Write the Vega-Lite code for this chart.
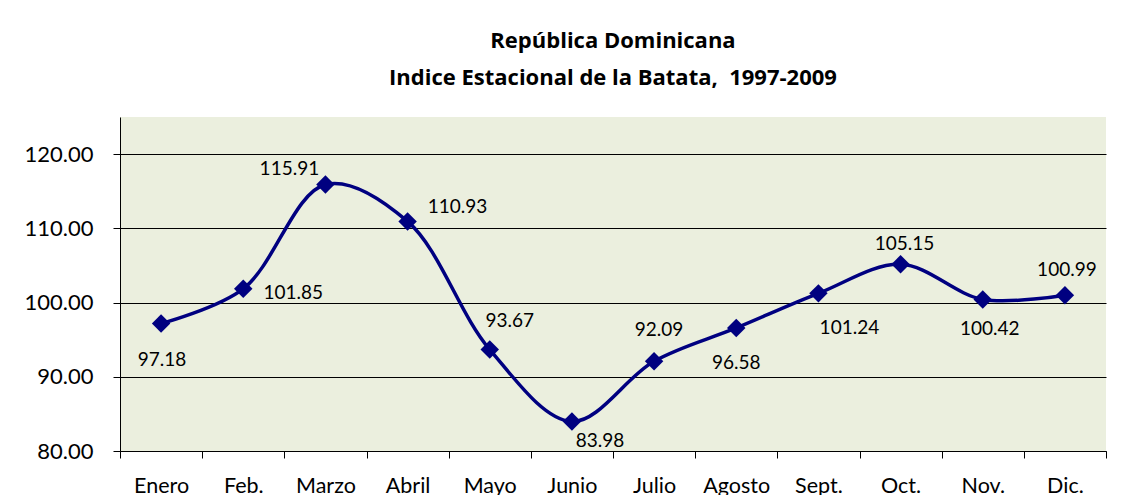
{
  "$schema": "https://vega.github.io/schema/vega-lite/v6.json",
  "width": 986,
  "height": 334,
  "autosize": {"type": "none"},
  "padding": {"left": 120, "top": 117, "right": 15, "bottom": 44},
  "background": "white",
  "title": {
    "text": ["República Dominicana", "Indice Estacional de la Batata,\u00a0 1997-2009"],
    "font": "Open Sans",
    "fontSize": 22,
    "fontWeight": "bold",
    "lineHeight": 37,
    "anchor": "middle",
    "color": "black",
    "offset": 27
  },
  "data": {
    "values": [
      {"mes": "Enero", "valor": 97.18},
      {"mes": "Feb.", "valor": 101.85},
      {"mes": "Marzo", "valor": 115.91},
      {"mes": "Abril", "valor": 110.93},
      {"mes": "Mayo", "valor": 93.67},
      {"mes": "Junio", "valor": 83.98},
      {"mes": "Julio", "valor": 92.09},
      {"mes": "Agosto", "valor": 96.58},
      {"mes": "Sept.", "valor": 101.24},
      {"mes": "Oct.", "valor": 105.15},
      {"mes": "Nov.", "valor": 100.42},
      {"mes": "Dic.", "valor": 100.99}
    ]
  },
  "encoding": {
    "x": {
      "field": "mes",
      "type": "ordinal",
      "sort": ["Enero", "Feb.", "Marzo", "Abril", "Mayo", "Junio", "Julio", "Agosto", "Sept.", "Oct.", "Nov.", "Dic."],
      "scale": {"paddingInner": 0, "paddingOuter": 0},
      "axis": {
        "title": null,
        "labelAngle": 0,
        "tickBand": "extent",
        "tickSize": 7,
        "tickColor": "black",
        "domainColor": "black",
        "labelFont": "Lato",
        "labelFontSize": 21.5,
        "labelColor": "black",
        "labelPadding": 17,
        "grid": false
      }
    },
    "y": {
      "field": "valor",
      "type": "quantitative",
      "scale": {"domain": [80, 125], "nice": false, "zero": false},
      "axis": {
        "title": null,
        "values": [80, 90, 100, 110, 120],
        "format": ".2f",
        "grid": true,
        "gridColor": "black",
        "gridWidth": 1,
        "gridOpacity": 1,
        "tickSize": 7,
        "tickColor": "black",
        "domainColor": "black",
        "labelFont": "Lato",
        "labelFontSize": 22,
        "labelColor": "black",
        "labelPadding": 20
      }
    }
  },
  "layer": [
    {"mark": {"type": "line", "interpolate": "catmull-rom", "color": "#000080", "strokeWidth": 3.5}},
    {"mark": {"type": "point", "shape": "diamond", "filled": true, "color": "#000080", "size": 340, "opacity": 1}},
    {"transform": [{"filter": "datum.mes === 'Enero'"}], "mark": {"type": "text", "font": "Lato", "fontSize": 19, "color": "black", "baseline": "middle", "dx": 1, "dy": 37}, "encoding": {"text": {"field": "valor", "type": "quantitative", "format": ".2f"}}},
    {"transform": [{"filter": "datum.mes === 'Feb.'"}], "mark": {"type": "text", "font": "Lato", "fontSize": 19, "color": "black", "baseline": "middle", "dx": 50, "dy": 4}, "encoding": {"text": {"field": "valor", "type": "quantitative", "format": ".2f"}}},
    {"transform": [{"filter": "datum.mes === 'Marzo'"}], "mark": {"type": "text", "font": "Lato", "fontSize": 19, "color": "black", "baseline": "middle", "dx": -36, "dy": -15}, "encoding": {"text": {"field": "valor", "type": "quantitative", "format": ".2f"}}},
    {"transform": [{"filter": "datum.mes === 'Abril'"}], "mark": {"type": "text", "font": "Lato", "fontSize": 19, "color": "black", "baseline": "middle", "dx": 50, "dy": -14}, "encoding": {"text": {"field": "valor", "type": "quantitative", "format": ".2f"}}},
    {"transform": [{"filter": "datum.mes === 'Mayo'"}], "mark": {"type": "text", "font": "Lato", "fontSize": 19, "color": "black", "baseline": "middle", "dx": 20, "dy": -29}, "encoding": {"text": {"field": "valor", "type": "quantitative", "format": ".2f"}}},
    {"transform": [{"filter": "datum.mes === 'Junio'"}], "mark": {"type": "text", "font": "Lato", "fontSize": 19, "color": "black", "baseline": "middle", "dx": 28, "dy": 20}, "encoding": {"text": {"field": "valor", "type": "quantitative", "format": ".2f"}}},
    {"transform": [{"filter": "datum.mes === 'Julio'"}], "mark": {"type": "text", "font": "Lato", "fontSize": 19, "color": "black", "baseline": "middle", "dx": 5, "dy": -31}, "encoding": {"text": {"field": "valor", "type": "quantitative", "format": ".2f"}}},
    {"transform": [{"filter": "datum.mes === 'Agosto'"}], "mark": {"type": "text", "font": "Lato", "fontSize": 19, "color": "black", "baseline": "middle", "dx": 0, "dy": 35}, "encoding": {"text": {"field": "valor", "type": "quantitative", "format": ".2f"}}},
    {"transform": [{"filter": "datum.mes === 'Sept.'"}], "mark": {"type": "text", "font": "Lato", "fontSize": 19, "color": "black", "baseline": "middle", "dx": 31, "dy": 35}, "encoding": {"text": {"field": "valor", "type": "quantitative", "format": ".2f"}}},
    {"transform": [{"filter": "datum.mes === 'Oct.'"}], "mark": {"type": "text", "font": "Lato", "fontSize": 19, "color": "black", "baseline": "middle", "dx": 4, "dy": -20}, "encoding": {"text": {"field": "valor", "type": "quantitative", "format": ".2f"}}},
    {"transform": [{"filter": "datum.mes === 'Nov.'"}], "mark": {"type": "text", "font": "Lato", "fontSize": 19, "color": "black", "baseline": "middle", "dx": 7, "dy": 30}, "encoding": {"text": {"field": "valor", "type": "quantitative", "format": ".2f"}}},
    {"transform": [{"filter": "datum.mes === 'Dic.'"}], "mark": {"type": "text", "font": "Lato", "fontSize": 19, "color": "black", "baseline": "middle", "dx": 2, "dy": -25}, "encoding": {"text": {"field": "valor", "type": "quantitative", "format": ".2f"}}}
  ],
  "config": {
    "view": {"stroke": null, "fill": "#EBEFDE"}
  }
}
